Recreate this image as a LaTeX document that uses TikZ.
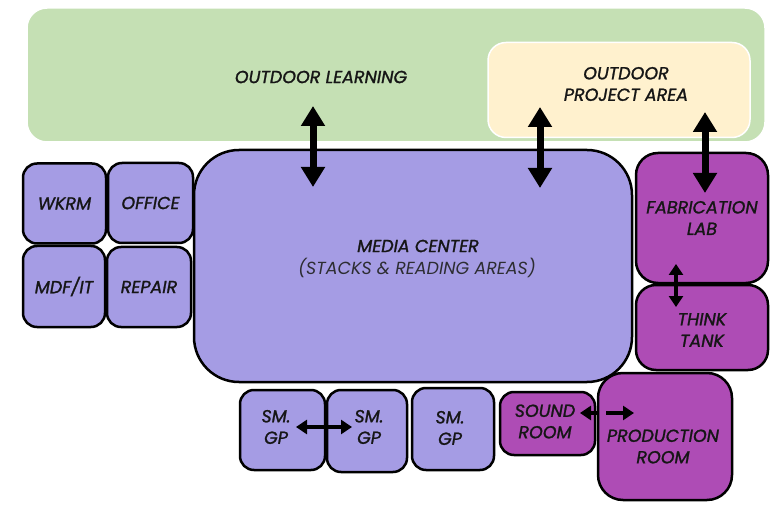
\documentclass[tikz,border=0pt]{standalone}
\usepackage{fontspec}
\setmainfont{Poppins}
\newfontfamily\lblfont{Poppins}[ItalicFeatures={FakeBold=1.3}]
\usetikzlibrary{arrows.meta}
\definecolor{grn}{RGB}{197,224,180}
\definecolor{crm}{RGB}{255,241,206}
\definecolor{lav}{RGB}{165,156,228}
\definecolor{pur}{RGB}{174,76,181}
\definecolor{ink}{RGB}{22,22,22}
\definecolor{subink}{RGB}{45,45,50}
\begin{document}
\begin{tikzpicture}[x=1pt,y=-1pt,
 txt/.style={font=\lblfont\fontsize{17.5}{21.5}\selectfont\itshape, text=ink, align=center},
 room/.style={draw=black, line width=2.5pt, rounded corners=14pt, inner sep=0pt, txt},
 lavroom/.style={room, fill=lav},
 purroom/.style={room, fill=pur},
 dbl/.style={draw=black, line width=7pt, {Triangle[width=23pt,length=20pt]}-{Triangle[width=23pt,length=20pt]}},
 sdbl/.style={draw=black, line width=4.5pt, {Triangle[width=14pt,length=11pt]}-{Triangle[width=14pt,length=11pt]}},
 rtip/.style={draw=black, line width=4.5pt, -{Triangle[width=14pt,length=11pt]}},
 ltip/.style={draw=black, line width=4.5pt, {Triangle[width=14pt,length=11pt]}-}
]
\useasboundingbox[fill=white] (0,0) rectangle (774,505);

% outdoor areas
\node[fill=grn, draw=white, line width=1.5pt, rounded corners=20pt, minimum width=738pt, minimum height=134pt, inner sep=0pt] (outdoor) at (396,75) {};
\node[txt] (outlbl) at (321,77) {OUTDOOR LEARNING};
\node[fill=crm, draw=white, line width=1.5pt, rounded corners=18pt, minimum width=262pt, minimum height=95pt, inner sep=0pt] (project) at (619,90) {};
\node[txt] (projlbl) at (626,84) {OUTDOOR\\PROJECT AREA};

% media center
\node[lavroom, rounded corners=45pt, minimum width=438pt, minimum height=232pt] (media) at (413,266) {};
\node[txt] (medlbl) at (418,246) {MEDIA CENTER};
\node[txt, font=\fontsize{17.5}{21.5}\selectfont\itshape, text=subink] (medsub) at (417,268) {(STACKS \& READING AREAS)};

% small rooms left
\node[lavroom, minimum width=83pt, minimum height=80pt] (wkrm) at (64.5,203.5) {WKRM};
\node[lavroom, minimum width=85pt, minimum height=80pt] (office) at (150.5,203) {OFFICE};
\node[lavroom, minimum width=82pt, minimum height=81pt] (mdf) at (64,286.5) {MDF/IT};
\node[lavroom, minimum width=84pt, minimum height=80pt] (repair) at (149,287) {REPAIR};

% right purple rooms
\node[purroom, rounded corners=22pt, minimum width=132pt, minimum height=130pt] (fab) at (702,218) {FABRICATION\\LAB};
\node[purroom, rounded corners=20pt, minimum width=132pt, minimum height=85pt] (think) at (702,327.5) {};
\node[txt] (thinklbl) at (702,330) {THINK\\TANK};

% bottom rooms
\node[lavroom, minimum width=85pt, minimum height=80pt] (gp1) at (282.5,430) {};
\node[txt] (gp1lbl) at (276,427) {SM.\\GP};
\node[lavroom, minimum width=80pt, minimum height=82pt] (gp2) at (367,431) {};
\node[txt] (gp2lbl) at (369,427) {SM.\\GP};
\node[lavroom, minimum width=82pt, minimum height=82pt] (gp3) at (453,429) {};
\node[txt] (gp3lbl) at (450,428) {SM.\\GP};
\node[purroom, minimum width=95pt, minimum height=63pt] (sound) at (547.5,423.5) {};
\node[txt] (soundlbl) at (545,421.5) {SOUND\\ROOM};
\node[purroom, rounded corners=25pt, minimum width=134pt, minimum height=127pt] (prod) at (665,436.5) {};
\node[txt] (prodlbl) at (663,446.5) {PRODUCTION\\ROOM};

% arrow end points
\coordinate (a1t) at (313,106); \coordinate (a1b) at (313,187);
\coordinate (a2t) at (540,107); \coordinate (a2b) at (540,188);
\coordinate (a3t) at (705,112); \coordinate (a3b) at (705,193);
\coordinate (a4t) at (676,264); \coordinate (a4b) at (676,307);
\coordinate (a5l) at (296,427); \coordinate (a5r) at (352,427);
\coordinate (a6l) at (580,413); \coordinate (a6m) at (598,413);
\coordinate (a6n) at (606,413); \coordinate (a6r) at (634,413);

\draw[dbl] (a1t) -- (a1b);
\draw[dbl] (a2t) -- (a2b);
\draw[dbl] (a3t) -- (a3b);
\draw[sdbl] (a4t) -- (a4b);
\draw[sdbl] (a5l) -- (a5r);
\draw[ltip] (a6l) -- (a6m);
\draw[rtip] (a6n) -- (a6r);
\end{tikzpicture}
\end{document}
